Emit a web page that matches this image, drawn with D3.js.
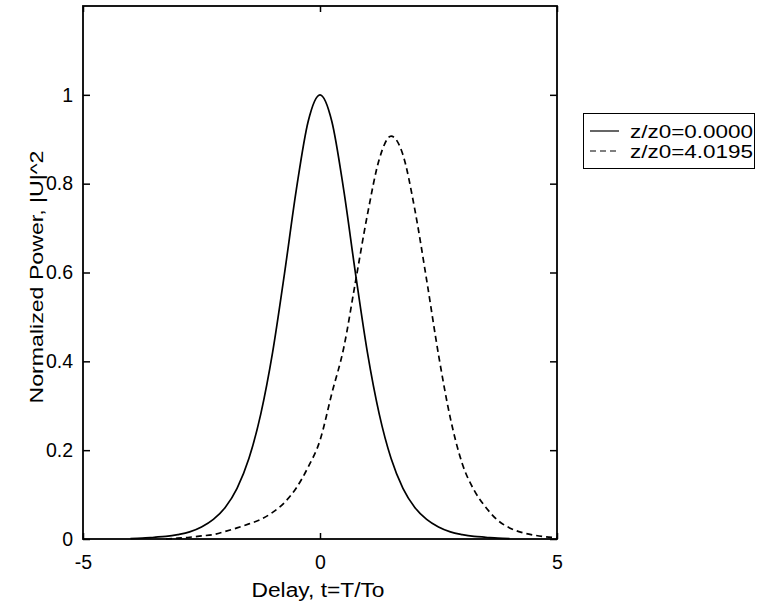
<!DOCTYPE html>
<html>
<head>
<meta charset="utf-8">
<script src="https://cdn.jsdelivr.net/npm/d3@7"></script>
<style>
  body { margin: 0; background: #fff; }
  svg text { font-family: "Liberation Sans", Arial, sans-serif; fill: #000; }
</style>
</head>
<body>
<div id="chart"></div>
<script>
// delay samples (t = T/To) and normalized power
const solidT = [-4, -3.75, -3.5, -3.25, -3, -2.75, -2.5, -2.25, -2, -1.75, -1.5, -1.25, -1, -0.75, -0.5, -0.25,
  0, 0.25, 0.5, 0.75, 1, 1.25, 1.5, 1.75, 2, 2.25, 2.5, 2.75, 3, 3.25, 3.5, 3.75, 4];
const solidP = [0.001, 0.002, 0.004, 0.006, 0.01, 0.016, 0.027, 0.044, 0.071, 0.114, 0.181, 0.281, 0.42, 0.597, 0.786, 0.94,
  1.0, 0.94, 0.786, 0.597, 0.42, 0.281, 0.181, 0.114, 0.071, 0.044, 0.027, 0.016, 0.01, 0.006, 0.004, 0.002, 0.001];

const dashT = [-3.25, -3, -2.75, -2.5, -2.25, -2, -1.75, -1.5, -1.25, -1, -0.75, -0.5, -0.25,
  0, 0.25, 0.5, 0.75, 1, 1.25, 1.5, 1.75, 2, 2.25, 2.5, 2.75, 3, 3.25, 3.5, 3.75, 4, 4.25, 4.5, 4.75, 5];
const dashP = [0.0, 0.002, 0.004, 0.007, 0.01, 0.017, 0.025, 0.034, 0.044, 0.06, 0.082, 0.115, 0.162,
  0.222, 0.328, 0.43, 0.58, 0.73, 0.855, 0.907, 0.865, 0.742, 0.583, 0.415, 0.272, 0.17, 0.11, 0.071, 0.042, 0.025, 0.015, 0.009, 0.005, 0.003];

const xTicks = [-5, 0, 5];
const yTicks = [0, 0.2, 0.4, 0.6, 0.8, 1];
const legendLabels = ['z/z0=0.0000', 'z/z0=4.0195'];

const W = 757, H = 608;
const plotLeft = 83, plotRight = 557, plotTop = 6, plotBottom = 539;

const svg = d3.select('#chart').append('svg')
  .attr('width', W).attr('height', H);

const x = d3.scaleLinear().domain([-5, 5]).range([plotLeft, plotRight]);
const y = d3.scaleLinear().domain([0, 1.2]).range([plotBottom, plotTop]);

const line = d3.line()
  .x((d) => x(d[0]))
  .y((d) => y(d[1]))
  .curve(d3.curveMonotoneX);

const solid = solidT.map((t, i) => [t, solidP[i]]);
const dashed = dashT.map((t, i) => [t, dashP[i]]);

svg.append('path').datum(solid)
  .attr('d', line).attr('fill', 'none')
  .attr('stroke', '#000').attr('stroke-width', 1.7);

svg.append('path').datum(dashed)
  .attr('d', line).attr('fill', 'none')
  .attr('stroke', '#000').attr('stroke-width', 1.7)
  .attr('stroke-dasharray', '6,4');

// axes: ticks drawn inward on all four sides, labels only left and bottom
const fmt = (d) => (d === 0 || d === 1 ? String(d) : d3.format('.1f')(d));

svg.append('g').attr('transform', `translate(0,${plotBottom})`)
  .call(d3.axisBottom(x).tickValues(xTicks).tickSizeInner(-6).tickSizeOuter(0).tickPadding(16).tickFormat((d) => String(d)))
  .call((g) => g.select('.domain').remove());
svg.append('g').attr('transform', `translate(0,${plotTop})`)
  .call(d3.axisTop(x).tickValues(xTicks).tickSizeInner(-6).tickSizeOuter(0).tickFormat(''))
  .call((g) => g.select('.domain').remove());
svg.append('g').attr('transform', `translate(${plotLeft},0)`)
  .call(d3.axisLeft(y).tickValues(yTicks).tickSizeInner(-7).tickSizeOuter(0).tickPadding(10).tickFormat(fmt))
  .call((g) => g.select('.domain').remove());
svg.append('g').attr('transform', `translate(${plotRight},0)`)
  .call(d3.axisRight(y).tickValues(yTicks).tickSizeInner(-7).tickSizeOuter(0).tickFormat(''))
  .call((g) => g.select('.domain').remove());

svg.selectAll('.tick line').attr('stroke', '#000').attr('stroke-width', 1.5);
svg.selectAll('.tick text').attr('font-size', 19.5).attr('font-family', '"Liberation Sans", Arial, sans-serif');

svg.append('rect')
  .attr('x', plotLeft).attr('y', plotTop)
  .attr('width', plotRight - plotLeft).attr('height', plotBottom - plotTop)
  .attr('fill', 'none').attr('stroke', '#000').attr('stroke-width', 1.8);

svg.append('text')
  .attr('x', 318).attr('y', 597)
  .attr('text-anchor', 'middle').attr('font-size', 19.5)
  .attr('textLength', 133).attr('lengthAdjust', 'spacingAndGlyphs')
  .text('Delay, t=T/To');

svg.append('text')
  .attr('transform', 'translate(43,277) rotate(-90)')
  .attr('text-anchor', 'middle').attr('font-size', 18.5)
  .attr('textLength', 253).attr('lengthAdjust', 'spacingAndGlyphs')
  .text('Normalized Power, |U|^2');

// legend
const legend = svg.append('g');
legend.append('rect')
  .attr('x', 583.5).attr('y', 113.5).attr('width', 171).attr('height', 55)
  .attr('fill', '#fff').attr('stroke', '#000').attr('stroke-width', 1);

legendLabels.forEach((label, i) => {
  const ly = 131 + i * 20;
  legend.append('line')
    .attr('x1', 590).attr('x2', 619).attr('y1', ly).attr('y2', ly)
    .attr('stroke', '#000').attr('stroke-width', 1.2)
    .attr('stroke-dasharray', i === 1 ? '6,4' : null);
  legend.append('text')
    .attr('x', 630).attr('y', ly + 7)
    .attr('font-size', 17.5)
    .attr('textLength', 123).attr('lengthAdjust', 'spacingAndGlyphs')
    .text(label);
});
</script>
</body>
</html>
